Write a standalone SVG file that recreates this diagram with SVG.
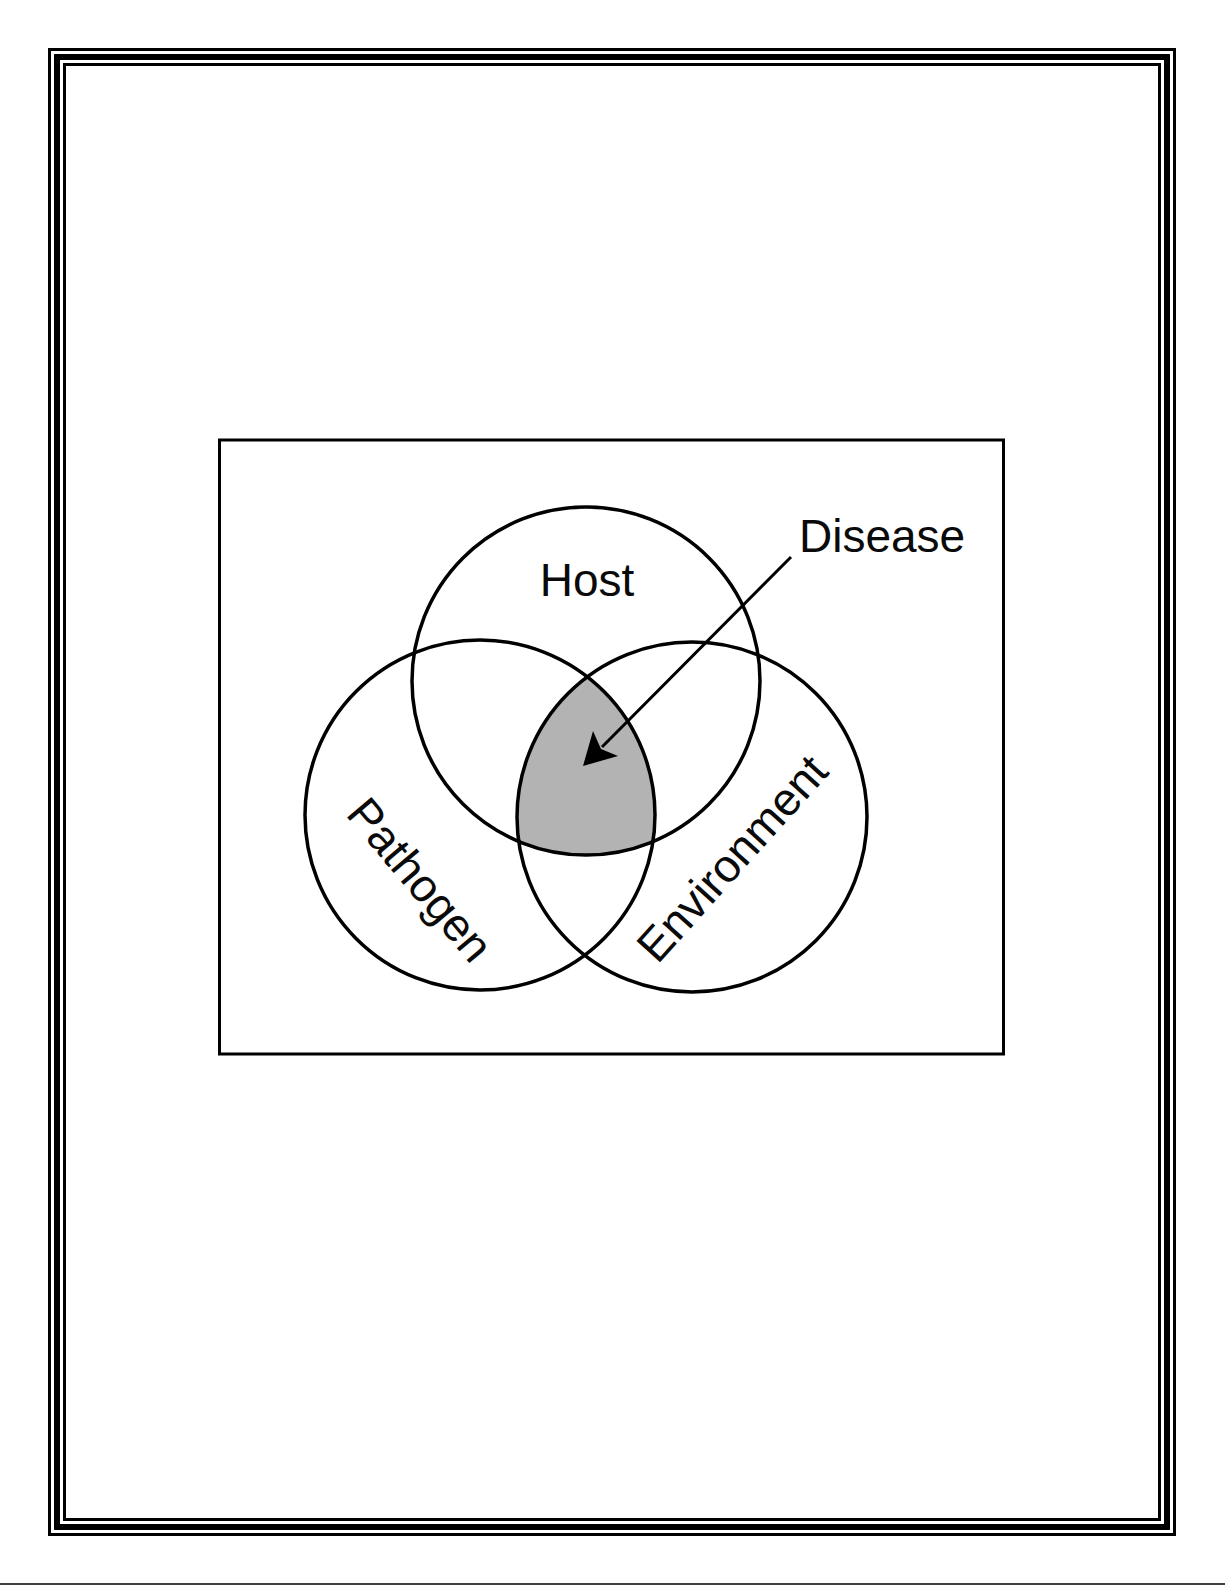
<svg xmlns="http://www.w3.org/2000/svg" width="1225" height="1585" viewBox="0 0 1225 1585">
<style>
.frame{fill:none;stroke:#000}
.ring{fill:none;stroke:#000;stroke-width:3.5}
.lbl{font-family:"Liberation Sans",Arial,sans-serif;font-size:46px;fill:#0a0a0a}
</style>
<defs>
<clipPath id="cHost"><circle cx="586" cy="681" r="174"/></clipPath>
<clipPath id="cPath"><circle cx="480" cy="815" r="175"/></clipPath>
</defs>
<rect width="1225" height="1585" fill="#fff"/>
<g id="page-frame">
<rect class="frame" x="49.5" y="49.5" width="1125" height="1485" stroke-width="3"/>
<rect class="frame" x="57" y="57" width="1110" height="1470" stroke-width="6"/>
<rect class="frame" x="64.5" y="64.5" width="1095" height="1455" stroke-width="3"/>
<line x1="0" y1="1584" x2="1225" y2="1584" stroke="#000" stroke-width="1.5"/>
</g>
<g id="box">
<rect class="frame" x="219.5" y="440" width="784" height="614" stroke-width="3"/>
</g>
<g id="disease-region">
<g clip-path="url(#cHost)">
<circle cx="692" cy="817" r="175" fill="#b3b3b3" clip-path="url(#cPath)"/>
</g>
</g>
<g id="host">
<circle class="ring" cx="586" cy="681" r="174"/>
<text class="lbl" x="587" y="596" text-anchor="middle">Host</text>
</g>
<g id="pathogen">
<circle class="ring" cx="480" cy="815" r="175"/>
<text class="lbl" text-anchor="middle" transform="translate(408,890) rotate(50)">Pathogen</text>
</g>
<g id="environment">
<circle class="ring" cx="692" cy="817" r="175"/>
<text class="lbl" text-anchor="middle" transform="translate(744,869) rotate(-48)">Environment</text>
</g>
<g id="disease">
<text class="lbl" x="799" y="552">Disease</text>
</g>
<g id="connectors">
<line x1="791" y1="557" x2="602" y2="747" stroke="#000" stroke-width="3"/>
<polygon points="583,766 593,731 601,749 618,756" fill="#000"/>
</g>
</svg>
